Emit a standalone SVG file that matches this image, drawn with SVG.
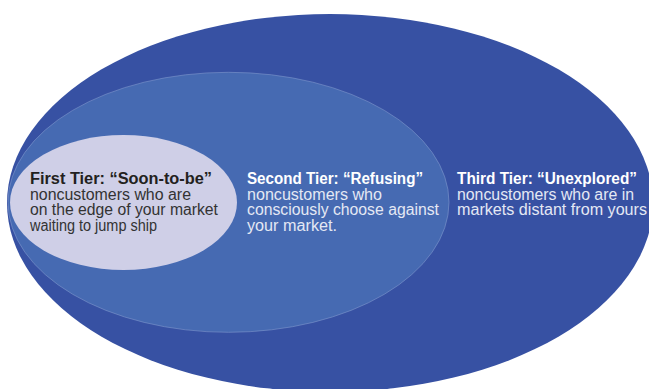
<svg xmlns="http://www.w3.org/2000/svg" width="649" height="389" viewBox="0 0 649 389">
  <style>
    .t { font-family: "Liberation Sans", Arial, sans-serif; font-size: 16px; }
    .h { font-weight: bold; }
    .dh { fill: #231f20; }
    .db { fill: #333333; }
    .lh { fill: #ffffff; }
    .lb { fill: #e4e8f4; }
  </style>
  <rect width="649" height="389" fill="#ffffff"/>
  <g id="tier3">
    <ellipse cx="330" cy="203" rx="323" ry="189" fill="#3751a3"/>
    <text class="t h lh" x="457" y="184" textLength="180" lengthAdjust="spacingAndGlyphs">Third Tier: “Unexplored”</text>
    <text class="t lb" x="457" y="199.5" textLength="177" lengthAdjust="spacingAndGlyphs">noncustomers who are in</text>
    <text class="t lb" x="457" y="215" textLength="190" lengthAdjust="spacingAndGlyphs">markets distant from yours</text>
  </g>
  <g id="tier2">
    <ellipse cx="228.5" cy="202.3" rx="220.5" ry="130" fill="#466ab2" stroke="#7f97cc" stroke-width="0.6"/>
    <text class="t h lh" x="247" y="184" textLength="176" lengthAdjust="spacingAndGlyphs">Second Tier: “Refusing”</text>
    <text class="t lb" x="247" y="199.5" textLength="135" lengthAdjust="spacingAndGlyphs">noncustomers who</text>
    <text class="t lb" x="247" y="215" textLength="192" lengthAdjust="spacingAndGlyphs">consciously choose against</text>
    <text class="t lb" x="247" y="230.5" textLength="90" lengthAdjust="spacingAndGlyphs">your market.</text>
  </g>
  <g id="tier1">
    <ellipse cx="123.5" cy="202.5" rx="113.5" ry="67.5" fill="#cfcfe7"/>
    <text class="t h dh" x="30" y="184" textLength="182" lengthAdjust="spacingAndGlyphs">First Tier: “Soon-to-be”</text>
    <text class="t db" x="30" y="199.5" textLength="161" lengthAdjust="spacingAndGlyphs">noncustomers who are</text>
    <text class="t db" x="30" y="215" textLength="188" lengthAdjust="spacingAndGlyphs">on the edge of your market</text>
    <text class="t db" x="30" y="230.5" textLength="127" lengthAdjust="spacingAndGlyphs">waiting to jump ship</text>
  </g>
  <g id="connectors"/>
</svg>
